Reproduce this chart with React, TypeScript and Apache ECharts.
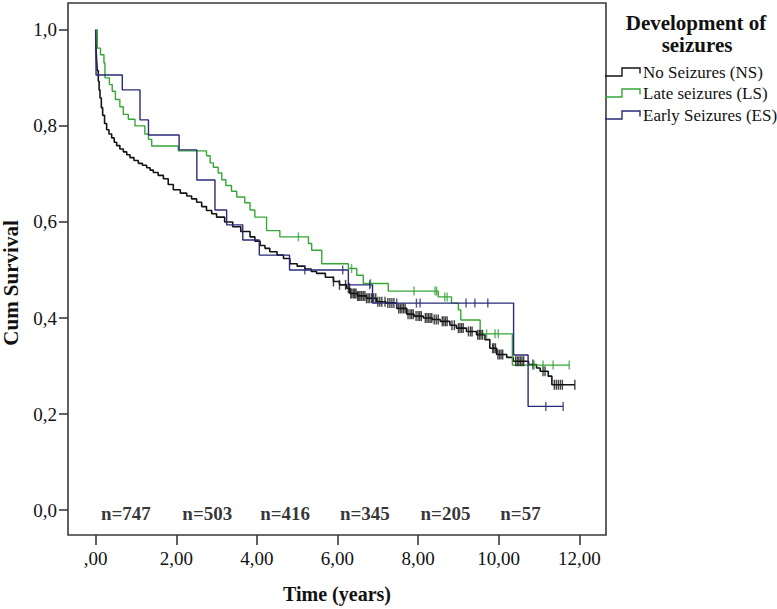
import React, { useEffect, useRef } from "react";
import * as echarts from "echarts";

// ---- Data ----
const xTicks = [0, 2, 4, 6, 8, 10, 12];
const yTicks = [0, 0.2, 0.4, 0.6, 0.8, 1.0];

const seriesNames = ["No Seizures (NS)", "Late seizures (LS)", "Early Seizures (ES)"];
const seriesColors = ["#141414", "#36a636", "#2a2a78"];

// No Seizures (NS)
const nsTimes = [0, 0.005, 0.012, 0.024, 0.04, 0.065, 0.085, 0.107, 0.14, 0.173, 0.22, 0.272, 0.33, 0.397, 0.46, 0.52, 0.6, 0.686, 0.77, 0.851, 0.95, 1.058, 1.16, 1.265, 1.35, 1.43, 1.55, 1.68, 1.8, 1.926, 2.1, 2.26, 2.38, 2.505, 2.63, 2.75, 2.88, 3.0, 3.2, 3.4, 3.6, 3.83, 3.95, 4.08, 4.2, 4.32, 4.5, 4.66, 4.82, 5.0, 5.19, 5.35, 5.48, 5.7, 5.9, 6.05, 6.23, 6.31, 6.5, 6.72, 6.97, 7.2, 7.47, 7.72, 7.9, 8.13, 8.35, 8.55, 8.79, 8.95, 9.2, 9.45, 9.66, 9.78, 9.95, 10.2, 10.36, 10.74, 10.94, 11.03, 11.23, 11.32, 11.89];
const nsValues = [1.0, 0.975, 0.955, 0.935, 0.915, 0.893, 0.875, 0.858, 0.838, 0.822, 0.805, 0.792, 0.783, 0.775, 0.766, 0.759, 0.752, 0.746, 0.74, 0.734, 0.728, 0.722, 0.718, 0.713, 0.708, 0.703, 0.697, 0.69, 0.678, 0.667, 0.66, 0.654, 0.648, 0.641, 0.632, 0.624, 0.617, 0.61, 0.6, 0.59, 0.58, 0.569, 0.56, 0.551, 0.545, 0.538, 0.531, 0.524, 0.513, 0.508, 0.502, 0.497, 0.493, 0.485, 0.476, 0.469, 0.462, 0.451, 0.446, 0.441, 0.434, 0.431, 0.42, 0.408, 0.404, 0.4, 0.397, 0.393, 0.385, 0.379, 0.372, 0.365, 0.355, 0.337, 0.324, 0.318, 0.31, 0.303, 0.296, 0.289, 0.279, 0.261, 0.261];
const nsCensored = [5.9, 6.05, 6.2, 6.27, 6.3, 6.33, 6.36, 6.4, 6.43, 6.46, 6.5, 6.53, 6.56, 6.6, 6.64, 6.68, 6.72, 6.76, 6.8, 6.85, 6.9, 6.95, 7.0, 7.05, 7.1, 7.18, 7.25, 7.3, 7.35, 7.4, 7.52, 7.56, 7.6, 7.64, 7.68, 7.75, 7.8, 7.84, 7.88, 7.95, 8.0, 8.04, 8.08, 8.18, 8.22, 8.26, 8.3, 8.34, 8.4, 8.45, 8.5, 8.6, 8.64, 8.68, 8.72, 8.84, 8.9, 9.0, 9.04, 9.08, 9.12, 9.25, 9.3, 9.34, 9.48, 9.52, 9.56, 9.6, 9.85, 9.88, 9.92, 9.98, 10.02, 10.06, 10.1, 10.42, 10.46, 10.5, 10.54, 10.58, 10.62, 10.85, 11.1, 11.15, 11.38, 11.43, 11.48, 11.53, 11.58, 11.89];

// Late seizures (LS)
const lsTimes = [0, 0.04, 0.12, 0.205, 0.23, 0.34, 0.41, 0.49, 0.6, 0.685, 0.81, 0.975, 1.22, 1.31, 1.39, 2.05, 2.75, 2.84, 2.92, 3.04, 3.13, 3.23, 3.37, 3.5, 3.7, 3.83, 3.95, 4.24, 4.57, 5.28, 5.36, 5.61, 6.27, 6.48, 6.64, 7.26, 8.5, 8.83, 9.0, 9.06, 9.54, 10.34, 11.75];
const lsValues = [1.0, 0.962, 0.948, 0.931, 0.9, 0.886, 0.872, 0.855, 0.84, 0.824, 0.814, 0.8, 0.783, 0.772, 0.758, 0.748, 0.738, 0.723, 0.714, 0.702, 0.688, 0.676, 0.664, 0.652, 0.64, 0.625, 0.61, 0.582, 0.569, 0.555, 0.541, 0.513, 0.503, 0.489, 0.472, 0.456, 0.444, 0.431, 0.417, 0.396, 0.367, 0.302, 0.302];
const lsCensored = [5.03, 6.35, 6.82, 7.9, 8.42, 8.46, 8.66, 8.72, 9.7, 9.91, 9.99, 10.88, 11.1, 11.35, 11.75];

// Early Seizures (ES)
const esTimes = [0, 0.01, 0.66, 1.1, 1.31, 2.07, 2.51, 2.96, 3.25, 3.65, 4.06, 4.81, 6.27, 6.87, 10.37, 10.73, 11.6];
const esValues = [1.0, 0.906, 0.875, 0.8125, 0.781, 0.75, 0.6875, 0.625, 0.594, 0.5625, 0.531, 0.5, 0.469, 0.431, 0.323, 0.216, 0.216];
const esCensored = [5.19, 6.13, 6.8, 7.47, 7.96, 8.05, 9.19, 9.41, 9.73, 11.17, 11.6];

// Numbers at risk
const nAtRiskLabels = ["n=747", "n=503", "n=416", "n=345", "n=205", "n=57"];
const nAtRiskTimes = [0.75, 2.77, 4.7, 6.68, 8.68, 10.54];
const nAtRiskLevel = -0.007;

const FONT = "Liberation Serif";

function stepAt(times: number[], vals: number[], t: number): number {
  let v = vals[0];
  for (let i = 0; i < times.length; i++) {
    if (times[i] <= t) v = vals[i];
    else break;
  }
  return v;
}

function txt(text: string, x: number, y: number, size: number, bold: boolean, align: string, rotation = 0) {
  return {
    type: "text",
    x,
    y,
    rotation,
    style: {
      text,
      fontFamily: FONT,
      fontSize: size,
      fontWeight: bold ? "bold" : "normal",
      fill: "#111",
      align,
      verticalAlign: "middle",
    },
  };
}

export default function App() {
  const ref = useRef<HTMLDivElement>(null);

  useEffect(() => {
    if (!ref.current) return;
    const chart = echarts.init(ref.current, null, { renderer: "svg" });

    const curves = [
      { times: nsTimes, vals: nsValues, cens: nsCensored },
      { times: lsTimes, vals: lsValues, cens: lsCensored },
      { times: esTimes, vals: esValues, cens: esCensored },
    ];

    const series: any[] = [];
    curves.forEach((c, i) => {
      series.push({
        name: seriesNames[i],
        type: "line",
        step: "end",
        showSymbol: false,
        symbol: "none",
        silent: true,
        z: 3 + i,
        lineStyle: { color: seriesColors[i], width: i === 0 ? 1.6 : 1.4 },
        data: c.times.map((t, k) => [t, c.vals[k]]),
      });
      series.push({
        name: seriesNames[i] + " censored",
        type: "scatter",
        symbol: "rect",
        symbolSize: [1.4, i === 0 ? 10 : 9],
        silent: true,
        z: 4,
        itemStyle: { color: seriesColors[i] },
        data: c.cens.map((t) => [t, stepAt(c.times, c.vals, t)]),
      });
    });

    series.push({
      name: "n at risk",
      type: "scatter",
      symbolSize: 0,
      silent: true,
      label: {
        show: true,
        position: "inside",
        formatter: (p: any) => nAtRiskLabels[p.dataIndex],
        fontFamily: FONT,
        fontWeight: "bold",
        fontSize: 19,
        color: "#000",
        textBorderWidth: 0,
      },
      data: nAtRiskTimes.map((t) => [t, nAtRiskLevel]),
    });

    const legendRows = [72, 93, 115];
    const legendGraphics: any[] = [];
    legendRows.forEach((ry, i) => {
      legendGraphics.push({
        type: "polyline",
        shape: {
          points: [
            [605, ry + 4],
            [622, ry + 4],
            [622, ry - 4],
            [640, ry - 4],
            [640, ry + 1.5],
          ],
        },
        style: { stroke: seriesColors[i], lineWidth: 1.4, fill: null },
      });
      legendGraphics.push(txt(seriesNames[i], 643, ry, 17, false, "left"));
    });

    chart.setOption({
      animation: false,
      backgroundColor: "#ffffff",
      textStyle: { fontFamily: FONT },
      grid: {
        left: 68,
        right: 171,
        top: 3,
        bottom: 71,
        show: true,
        borderColor: "#3a3a3a",
        borderWidth: 1.6,
        backgroundColor: "#ffffff",
      },
      xAxis: {
        type: "value",
        min: -0.687,
        max: 12.663,
        name: "Time (years)",
        nameLocation: "middle",
        nameGap: 49,
        nameTextStyle: { fontFamily: FONT, fontWeight: "bold", fontSize: 20, color: "#111" },
        axisLine: { show: false, onZero: false },
        splitLine: { show: false },
        axisTick: {
          show: true,
          customValues: xTicks,
          length: 10,
          lineStyle: { color: "#3a3a3a", width: 1.6 },
        },
        axisLabel: {
          customValues: xTicks,
          margin: 14,
          fontFamily: FONT,
          fontSize: 19,
          color: "#111",
          formatter: (v: number) => (v === 0 ? ",00" : v.toFixed(2).replace(".", ",")),
        },
      },
      yAxis: {
        type: "value",
        min: -0.0518,
        max: 1.0559,
        axisLine: { show: false, onZero: false },
        splitLine: { show: false },
        axisTick: {
          show: true,
          customValues: yTicks,
          length: 9,
          lineStyle: { color: "#3a3a3a", width: 1.6 },
        },
        axisLabel: {
          customValues: yTicks,
          margin: 11,
          fontFamily: FONT,
          fontSize: 19,
          color: "#111",
          formatter: (v: number) => v.toFixed(1).replace(".", ","),
        },
      },
      graphic: [
        txt("Cum Survival", 11, 283, 21, true, "center", Math.PI / 2),
        txt("Development of", 696, 23, 21, true, "center"),
        txt("seizures", 697, 45, 21, true, "center"),
        ...legendGraphics,
      ],
      series,
    });

    return () => {
      chart.dispose();
    };
  }, []);

  return (
    <div
      ref={ref}
      style={{ position: "fixed", left: 0, top: 0, width: 777, height: 609, background: "#fff" }}
    />
  );
}
